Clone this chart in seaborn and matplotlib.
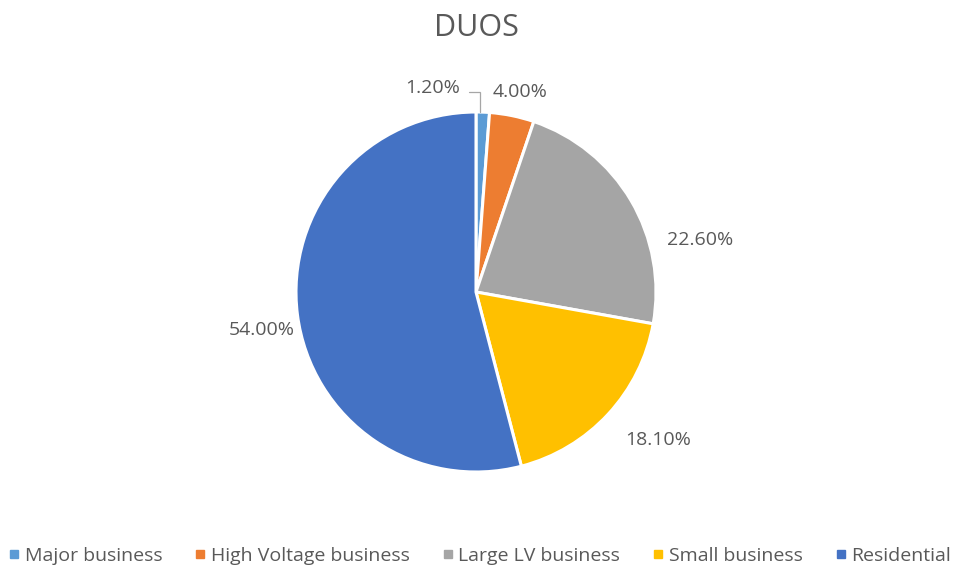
import matplotlib
matplotlib.use("Agg")
import matplotlib.pyplot as plt
from matplotlib.lines import Line2D
import seaborn as sns

categories = ["Major business", "High Voltage business", "Large LV business",
              "Small business", "Residential"]
shares = [1.20, 4.00, 22.60, 18.10, 54.00]
colors = ["#5B9BD5", "#ED7D31", "#A5A5A5", "#FFC000", "#4472C4"]

# label anchor points in pie units (radius = 1)
label_pos = [(-0.24, 1.135), (0.245, 1.11), (1.245, 0.29), (1.01, -0.82), (-1.19, -0.21)]

sns.set_theme(style="white")
plt.rcParams["font.family"] = ["Open Sans", "DejaVu Sans"]
text_color = "#595959"

W, H = 957, 571
fig = plt.figure(figsize=(W / 100, H / 100), dpi=100)
cx, cy, r = 476, 571 - 292, 180
ax = fig.add_axes([(cx - 1.5 * r) / W, (cy - 1.5 * r) / H, 3 * r / W, 3 * r / H])
ax.axis("off")

wedges, _ = ax.pie(shares, colors=colors, startangle=90, counterclock=False,
                   radius=1.0, wedgeprops=dict(edgecolor="white", linewidth=2.2),
                   frame=False)
ax.set_xlim(-1.5, 1.5)
ax.set_ylim(-1.5, 1.5)
ax.set_aspect("auto")

for v, (x, y) in zip(shares, label_pos):
    ax.text(x, y, f"{v:.2f}%", ha="center", va="center", fontsize=14, color=text_color)

# leader line for the thin first slice
ax.plot([-0.04, 0.022, 0.022], [1.111, 1.111, 1.0], color="#A6A6A6", lw=0.9,
        solid_joinstyle="miter")

fig.text(cx / W, 1 - 28 / H, "DUOS", ha="center", va="center", fontsize=22,
         color=text_color)

handles = [Line2D([0], [0], marker="s", linestyle="none", markersize=6,
                  markerfacecolor=c, markeredgecolor=c) for c in colors]
fig.legend(handles, categories, loc="center", bbox_to_anchor=(0.5, 1 - 556 / H),
           ncol=5, frameon=False, fontsize=14, handletextpad=0.15,
           columnspacing=1.55, labelcolor=text_color, handlelength=0.8)

fig.savefig("out.png", dpi=100, facecolor="white")
